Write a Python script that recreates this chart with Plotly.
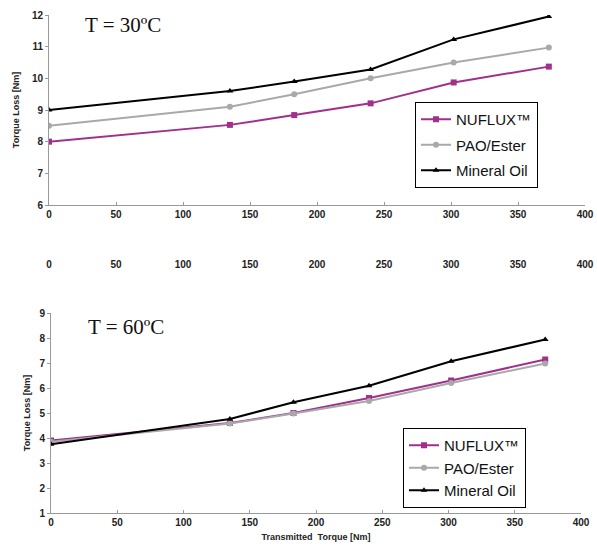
import plotly.graph_objects as go

transmitted_torque = [0, 135, 183, 240, 302, 373]

nuflux_30 = [8.0, 8.53, 8.84, 9.21, 9.87, 10.37]
pao_30 = [8.5, 9.1, 9.5, 10.0, 10.5, 10.97]
mineral_30 = [9.0, 9.6, 9.9, 10.28, 11.23, 11.95]

nuflux_60 = [3.9, 4.6, 5.0, 5.6, 6.3, 7.14]
pao_60 = [3.85, 4.58, 4.98, 5.48, 6.2, 6.98]
mineral_60 = [3.75, 4.76, 5.43, 6.09, 7.07, 7.94]

series_names = ["NUFLUX™", "PAO/Ester", "Mineral Oil"]
x_ticks = [0, 50, 100, 150, 200, 250, 300, 350, 400]
y_ticks_30 = [6, 7, 8, 9, 10, 11, 12]
y_ticks_60 = [1, 2, 3, 4, 5, 6, 7, 8, 9]

W, H = 597, 553
colors = ["#A0308C", "#A9A9A9", "#000000"]
symbols = ["square", "circle", "triangle-up"]

fig = go.Figure()

for i, (name, ys, c, s) in enumerate(zip(series_names, [nuflux_30, pao_30, mineral_30], colors, symbols)):
    fig.add_trace(go.Scatter(x=transmitted_torque, y=ys, name=name, mode="lines+markers",
                             line=dict(color=c, width=2), marker=dict(symbol=s, size=6, color=c),
                             xaxis="x", yaxis="y", legend="legend", legendgroup="a%d" % i))
for i, (name, ys, c, s) in enumerate(zip(series_names, [nuflux_60, pao_60, mineral_60], colors, symbols)):
    fig.add_trace(go.Scatter(x=transmitted_torque, y=ys, name=name, mode="lines+markers",
                             line=dict(color=c, width=2), marker=dict(symbol=s, size=6, color=c),
                             xaxis="x2", yaxis="y2", legend="legend2", legendgroup="b%d" % i))
# extra tick-label row between the panels
fig.add_trace(go.Scatter(x=[None], y=[None], xaxis="x3", yaxis="y", showlegend=False, hoverinfo="skip"))

FONT = "Liberation Sans, Arial"
tickfont = dict(family=FONT, size=10, color="#222222", weight="bold")
axis_common = dict(showgrid=False, zeroline=False, showline=True, linecolor="#999999", linewidth=1,
                   tickfont=tickfont, automargin=False, ticklen=3, tickcolor="#999999")
title_font = dict(family=FONT, size=9, color="#222", weight="bold")

def px_x(p):
    return p / W

def px_y(p):
    return 1 - p / H

fig.update_layout(
    width=W, height=H, margin=dict(l=0, r=0, t=0, b=0, autoexpand=False),
    plot_bgcolor="white", paper_bgcolor="white",
    xaxis=dict(domain=[px_x(49), px_x(585)], range=[0, 400], tickvals=x_ticks, anchor="y",
               ticks="inside", **axis_common),
    yaxis=dict(domain=[px_y(205), px_y(15)], range=[6, 12], tickvals=y_ticks_30, anchor="x",
               ticks="outside",
               title=dict(text="Torque Loss [Nm]", font=title_font, standoff=10),
               **axis_common),
    xaxis2=dict(domain=[px_x(51), px_x(581)], range=[0, 400], tickvals=x_ticks, anchor="y2",
                ticks="inside",
                title=dict(text="Transmitted  Torque [Nm]", font=title_font, standoff=6),
                **axis_common),
    yaxis2=dict(domain=[px_y(513), px_y(313)], range=[1, 9], tickvals=y_ticks_60, anchor="x2",
                ticks="outside",
                title=dict(text="Torque Loss [Nm]", font=title_font, standoff=7),
                **axis_common),
    xaxis3=dict(domain=[px_x(49), px_x(585)], range=[0, 400], tickvals=x_ticks, anchor="free",
                overlaying="x", position=px_y(257), showline=False, showgrid=False, zeroline=False,
                ticks="", tickfont=tickfont, automargin=False),
    legend=dict(x=px_x(415), y=px_y(102), xanchor="left", yanchor="top", bordercolor="black", borderwidth=1,
                bgcolor="white", font=dict(family=FONT, size=15, color="#111"),
                tracegroupgap=3, itemwidth=30, entrywidth=117, entrywidthmode="pixels"),
    legend2=dict(x=px_x(403), y=px_y(428), xanchor="left", yanchor="top", bordercolor="black", borderwidth=1,
                 bgcolor="white", font=dict(family=FONT, size=15, color="#111"),
                 tracegroupgap=0, itemwidth=30, entrywidth=110, entrywidthmode="pixels"),
    showlegend=True,
    annotations=[
        dict(text="T = 30ºC", x=px_x(83), y=px_y(25), xref="paper", yref="paper", xanchor="left", yanchor="middle",
             showarrow=False, font=dict(family="Liberation Serif, Times New Roman", size=21, color="#111")),
        dict(text="T = 60ºC", x=px_x(86), y=px_y(327), xref="paper", yref="paper", xanchor="left", yanchor="middle",
             showarrow=False, font=dict(family="Liberation Serif, Times New Roman", size=21, color="#111")),
    ],
)

fig.write_html("out.html", config={"displayModeBar": False}, post_script=(
    "document.documentElement.style.margin='0';document.body.style.margin='0';"
    "document.documentElement.style.overflow='hidden';document.body.style.overflow='hidden';"))
